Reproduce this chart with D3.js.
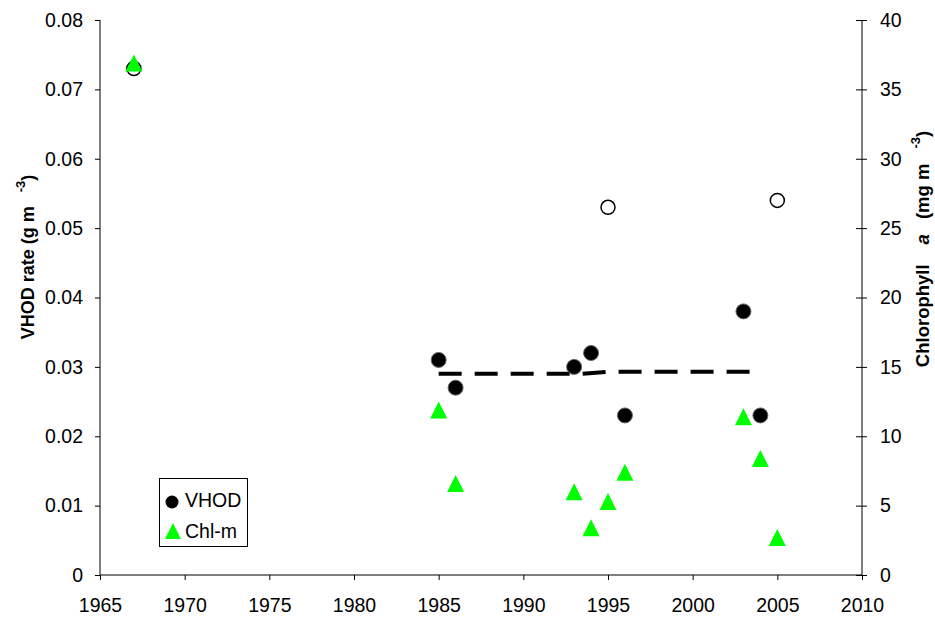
<!DOCTYPE html>
<html>
<head>
<meta charset="utf-8">
<script src="https://cdn.jsdelivr.net/npm/d3@7"></script>
<style>
  body { margin: 0; background: #fff; }
  svg { font-family: "Liberation Sans", Arial, sans-serif; }
</style>
</head>
<body>
<div id="chart"></div>
<script>
// VHOD rate (left axis, g m-3)
const vhodYears = [1985, 1986, 1993, 1994, 1996, 2003, 2004];
const vhodValues = [0.031, 0.027, 0.030, 0.032, 0.023, 0.038, 0.023];
// VHOD shown as open circles
const openYears = [1967, 1995, 2005];
const openValues = [0.073, 0.053, 0.054];
// Chlorophyll a (right axis, mg m-3)
const chlYears = [1967, 1985, 1986, 1993, 1994, 1995, 1996, 2003, 2004, 2005];
const chlValues = [36.9, 11.9, 6.6, 6.0, 3.4, 5.3, 7.4, 11.4, 8.4, 2.7];
// dashed trend line (left axis)
const trendYears = [1985, 1993.5, 1995, 2004];
const trendValues = [0.029, 0.029, 0.0293, 0.0293];

const xTicks = d3.range(1965, 2011, 5);
const leftTicks = [0, 0.01, 0.02, 0.03, 0.04, 0.05, 0.06, 0.07, 0.08];
const rightTicks = [0, 5, 10, 15, 20, 25, 30, 35, 40];

const W = 935, H = 618;
const plot = { left: 100, right: 862, top: 20, bottom: 575 };
const fontSize = 19.5;

const svg = d3.select("#chart").append("svg")
    .attr("width", W)
    .attr("height", H);

const x = d3.scaleLinear().domain([1965, 2010]).range([plot.left, plot.right]);
const yL = d3.scaleLinear().domain([0, 0.08]).range([plot.bottom, plot.top]);
const yR = d3.scaleLinear().domain([0, 40]).range([plot.bottom, plot.top]);

// axes
const xAxis = svg.append("g")
    .attr("transform", `translate(0,${plot.bottom})`)
    .call(d3.axisBottom(x).tickValues(xTicks).tickFormat(d3.format("d")).tickSize(5).tickPadding(18));

const leftAxis = svg.append("g")
    .attr("transform", `translate(${plot.left},0)`)
    .call(d3.axisLeft(yL).tickValues(leftTicks).tickFormat(d => d === 0 ? "0" : d3.format(".2f")(d)).tickSize(5).tickPadding(12));

const rightAxis = svg.append("g")
    .attr("transform", `translate(${plot.right},0)`)
    .call(d3.axisRight(yR).tickValues(rightTicks).tickSize(5).tickPadding(13));
// right ticks cross the axis
rightAxis.selectAll(".tick line").attr("x1", -6).attr("x2", 5);

[xAxis, leftAxis, rightAxis].forEach(a => {
  a.attr("font-size", fontSize).attr("font-family", "'Liberation Sans', Arial, sans-serif");
  a.select(".domain").attr("stroke", "#000").attr("stroke-width", 1);
  a.selectAll(".tick line").attr("stroke", "#000");
  a.selectAll("text").attr("fill", "#000");
});
// plain domain lines without end caps
xAxis.select(".domain").attr("d", `M${plot.left},0H${plot.right}`);
leftAxis.select(".domain").attr("d", `M0,${plot.top}V${plot.bottom}`);
rightAxis.select(".domain").attr("d", `M0,${plot.top}V${plot.bottom}`);

// axis titles
const lt = svg.append("text")
    .attr("transform", `translate(34,257) rotate(-90)`)
    .attr("text-anchor", "middle")
    .attr("font-size", 18)
    .attr("font-weight", "bold");
lt.append("tspan").text("VHOD rate (g m");
lt.append("tspan").attr("dx", 14).attr("dy", -9).attr("font-size", 13).text("-3");
lt.append("tspan").attr("dy", 9).text(")");

const rt = svg.append("text")
    .attr("transform", `translate(929,249) rotate(-90)`)
    .attr("text-anchor", "middle")
    .attr("font-size", 18.5)
    .attr("font-weight", "bold");
rt.append("tspan").text("Chlorophyll");
rt.append("tspan").attr("dx", 20).attr("font-style", "italic").text("a");
rt.append("tspan").attr("dx", 15).text("(mg m");
rt.append("tspan").attr("dx", 15).attr("dy", -9).attr("font-size", 13).text("-3");
rt.append("tspan").attr("dy", 9).text(")");

// triangle centred on its bounding box
const triangle = {
  draw(ctx, size) {
    const w = size, h = size;
    ctx.moveTo(0, -h / 2);
    ctx.lineTo(w / 2, h / 2);
    ctx.lineTo(-w / 2, h / 2);
    ctx.closePath();
  }
};

// trend line
const trend = trendYears.map((t, i) => [t, trendValues[i]]);
svg.append("path")
    .datum(trend)
    .attr("fill", "none")
    .attr("stroke", "#000")
    .attr("stroke-width", 4)
    .attr("stroke-dasharray", "23,13")
    .attr("d", d3.line().x(d => x(d[0])).y(d => yL(d[1])));

// open circles
svg.append("g").selectAll("circle")
    .data(openYears.map((t, i) => [t, openValues[i]]))
    .join("circle")
    .attr("cx", d => x(d[0]))
    .attr("cy", d => yL(d[1]))
    .attr("r", 7)
    .attr("fill", "#fff")
    .attr("stroke", "#000")
    .attr("stroke-width", 1.5);

// chlorophyll triangles
svg.append("g").selectAll("path")
    .data(chlYears.map((t, i) => [t, chlValues[i]]))
    .join("path")
    .attr("transform", d => `translate(${x(d[0])},${yR(d[1])})`)
    .attr("d", d3.symbol(triangle, 17)())
    .attr("fill", "#00ff00");

// filled VHOD circles
svg.append("g").selectAll("circle")
    .data(vhodYears.map((t, i) => [t, vhodValues[i]]))
    .join("circle")
    .attr("cx", d => x(d[0]))
    .attr("cy", d => yL(d[1]))
    .attr("r", 7.5)
    .attr("fill", "#000")
    .attr("stroke", "#666")
    .attr("stroke-width", 1);

// legend
const legend = svg.append("g").attr("font-size", fontSize);
legend.append("rect")
    .attr("x", 159.5).attr("y", 478.5)
    .attr("width", 88).attr("height", 68)
    .attr("fill", "#fff").attr("stroke", "#000");
legend.append("circle")
    .attr("cx", 172).attr("cy", 502).attr("r", 6.5).attr("fill", "#000");
legend.append("text")
    .attr("x", 185).attr("y", 507).text("VHOD");
legend.append("path")
    .attr("transform", "translate(173,531)")
    .attr("d", d3.symbol(triangle, 16)())
    .attr("fill", "#00ff00");
legend.append("text")
    .attr("x", 185).attr("y", 538).text("Chl-m");
</script>
</body>
</html>
